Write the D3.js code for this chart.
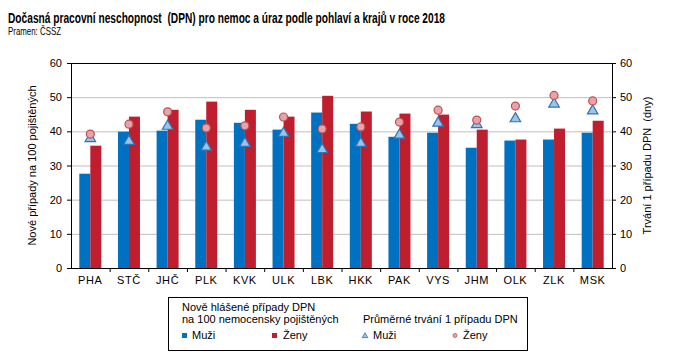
<!DOCTYPE html>
<html>
<head>
<meta charset="utf-8">
<script src="https://cdn.jsdelivr.net/npm/d3@7"></script>
<style>
  body { margin: 0; background: #fff; }
  text { font-family: "Liberation Sans", Arial, sans-serif; }
</style>
</head>
<body>
<div id="chart"></div>
<script>
/* DATA */
const regions = ["PHA", "STČ", "JHČ", "PLK", "KVK", "ULK", "LBK", "HKK", "PAK", "VYS", "JHM", "OLK", "ZLK", "MSK"];
// new cases per 100 insured
const casesMen = [27.6, 39.9, 40.2, 43.4, 42.5, 40.5, 45.5, 42.2, 38.4, 39.6, 35.2, 37.3, 37.6, 39.6];
const casesWomen = [35.8, 44.3, 46.3, 48.7, 46.3, 44.3, 50.4, 45.8, 45.2, 44.9, 40.5, 37.6, 40.8, 43.1];
// average duration of one case (days)
const durationMen = [37.9, 37.1, 41.5, 35.4, 36.5, 39.4, 34.7, 36.5, 38.9, 42.4, 42.0, 43.7, 48.0, 46.0];
const durationWomen = [39.2, 42.1, 45.7, 41.0, 41.6, 44.2, 40.7, 41.3, 42.7, 46.2, 43.3, 47.4, 50.5, 48.9];
const yTicks = [0, 10, 20, 30, 40, 50, 60];

/* CONSTANTS */
const width = 678, height = 364;
const margin = { top: 63, bottom: 96, left: 71, right: 66 };
const blue = "#0070C0", red = "#BE1E2D";
const triFill = "#9DC3E6", triStroke = "#2E75B6";
const dotFill = "#E6A3AC", dotStroke = "#C0504D";

const svg = d3.select("#chart").append("svg")
  .attr("width", width)
  .attr("height", height);

// title (condensed to match the narrow face of the original)
svg.append("text")
  .attr("x", 8).attr("y", 23)
  .attr("textLength", 437).attr("lengthAdjust", "spacingAndGlyphs")
  .style("font-size", "14.5px").style("font-weight", "bold")
  .style("white-space", "pre")
  .text("Dočasná pracovní neschopnost  (DPN) pro nemoc a úraz podle pohlaví a krajů v roce 2018");
svg.append("text")
  .attr("x", 8).attr("y", 35)
  .attr("textLength", 53).attr("lengthAdjust", "spacingAndGlyphs")
  .style("font-size", "10.5px")
  .text("Pramen: ČSSZ");

/* SCALES */
const xScale = d3.scaleBand()
  .domain(regions)
  .range([margin.left, width - margin.right]);

const inner = d3.scaleBand()
  .domain(["m", "w"])
  .range([xScale.bandwidth() / 2 - 11, xScale.bandwidth() / 2 + 11]);

const yLeft = d3.scaleLinear().domain([0, 60]).range([height - margin.bottom, margin.top]);
const yRight = d3.scaleLinear().domain([0, 60]).range([height - margin.bottom, margin.top]);

// gridlines
svg.append("g")
  .selectAll("line")
  .data(yTicks.filter(d => d > 0 && d < 60))
  .join("line")
  .attr("x1", margin.left).attr("x2", width - margin.right)
  .attr("y1", d => yLeft(d) + 0.5).attr("y2", d => yLeft(d) + 0.5)
  .attr("stroke", "#BFBFBF");

// top border
svg.append("line")
  .attr("x1", margin.left).attr("x2", width - margin.right)
  .attr("y1", yLeft(60) + 0.5).attr("y2", yLeft(60) + 0.5)
  .attr("stroke", "#000");

/* BARS */
const groups = svg.append("g").selectAll("g")
  .data(regions)
  .join("g")
  .attr("transform", d => `translate(${xScale(d)},0)`);

groups.append("rect")
  .attr("x", d => inner("m"))
  .attr("width", inner.bandwidth())
  .attr("y", (d, i) => yLeft(casesMen[i]))
  .attr("height", (d, i) => yLeft(0) - yLeft(casesMen[i]))
  .attr("fill", blue);

groups.append("rect")
  .attr("x", d => inner("w"))
  .attr("width", inner.bandwidth())
  .attr("y", (d, i) => yLeft(casesWomen[i]))
  .attr("height", (d, i) => yLeft(0) - yLeft(casesWomen[i]))
  .attr("fill", red);

/* MARKERS */
const tri = d3.symbol().type(d3.symbolTriangle).size(48);
groups.append("path")
  .attr("d", tri)
  .attr("transform", (d, i) => `translate(${xScale.bandwidth() / 2},${yRight(durationMen[i])})`)
  .attr("fill", triFill).attr("stroke", triStroke).attr("stroke-width", 1.2);

groups.append("circle")
  .attr("cx", xScale.bandwidth() / 2)
  .attr("cy", (d, i) => yRight(durationWomen[i]))
  .attr("r", 4)
  .attr("fill", dotFill).attr("stroke", dotStroke).attr("stroke-width", 1.2);

/* AXES */
const axisFont = g => g.selectAll("text")
  .style("font-size", "11px").attr("fill", "#000");

svg.append("g")
  .attr("transform", `translate(${margin.left},0)`)
  .call(d3.axisLeft(yLeft).tickValues(yTicks).tickSize(4).tickPadding(5))
  .call(g => g.select(".domain").attr("d", `M0.5,${yLeft(60)}V${yLeft(0) + 0.5}`))
  .call(axisFont);

svg.append("g")
  .attr("transform", `translate(${width - margin.right},0)`)
  .call(d3.axisRight(yRight).tickValues(yTicks).tickSize(4).tickPadding(4))
  .call(g => g.select(".domain").attr("d", `M0.5,${yRight(60)}V${yRight(0) + 0.5}`))
  .call(axisFont);

const xAxis = svg.append("g")
  .attr("transform", `translate(0,${yLeft(0)})`)
  .call(d3.axisBottom(xScale).tickSize(0).tickPadding(8))
  .call(axisFont);
xAxis.select(".domain").attr("d", `M${margin.left},0.5H${width - margin.right}`);
xAxis.selectAll("text").style("letter-spacing", "0.6px");
// category separators
xAxis.selectAll(".sep")
  .data(regions.slice(1))
  .join("line")
  .attr("x1", d => xScale(d) + 0.5).attr("x2", d => xScale(d) + 0.5)
  .attr("y1", 0).attr("y2", 4)
  .attr("stroke", "#000");

// axis titles
svg.append("text")
  .attr("transform", `translate(36,${(yLeft(0) + yLeft(60)) / 2}) rotate(-90)`)
  .attr("text-anchor", "middle")
  .style("font-size", "11px")
  .text("Nové případy na 100 pojištěných");

svg.append("text")
  .attr("transform", `translate(651,${(yLeft(0) + yLeft(60)) / 2}) rotate(-90)`)
  .attr("text-anchor", "middle")
  .style("font-size", "11px")
  .style("white-space", "pre")
  .text("Trvání 1 případu DPN  (dny)");

/* LEGEND */
const legend = svg.append("g");
legend.append("rect")
  .attr("x", 168.5).attr("y", 297.5)
  .attr("width", 359).attr("height", 53)
  .attr("fill", "none").attr("stroke", "#000");

const legText = (x, y, t) => legend.append("text")
  .attr("x", x).attr("y", y)
  .style("font-size", "11px")
  .text(t);

legText(182, 311, "Nově hlášené případy DPN");
legText(182, 323, "na 100 nemocensky pojištěných");
legText(363, 323, "Průměrné trvání 1 případu DPN");

legend.append("rect").attr("x", 182).attr("y", 333).attr("width", 5).attr("height", 5).attr("fill", blue);
legText(192, 339, "Muži");
legend.append("rect").attr("x", 272).attr("y", 333).attr("width", 5).attr("height", 5).attr("fill", red);
legText(283, 339, "Ženy");
legend.append("path")
  .attr("d", d3.symbol().type(d3.symbolTriangle).size(14))
  .attr("transform", "translate(365,336)")
  .attr("fill", triFill).attr("stroke", triStroke).attr("stroke-width", 0.8);
legText(373, 339, "Muži");
legend.append("circle")
  .attr("cx", 455).attr("cy", 335.5).attr("r", 2)
  .attr("fill", dotFill).attr("stroke", dotStroke).attr("stroke-width", 0.8);
legText(463, 339, "Ženy");
</script>
</body>
</html>
